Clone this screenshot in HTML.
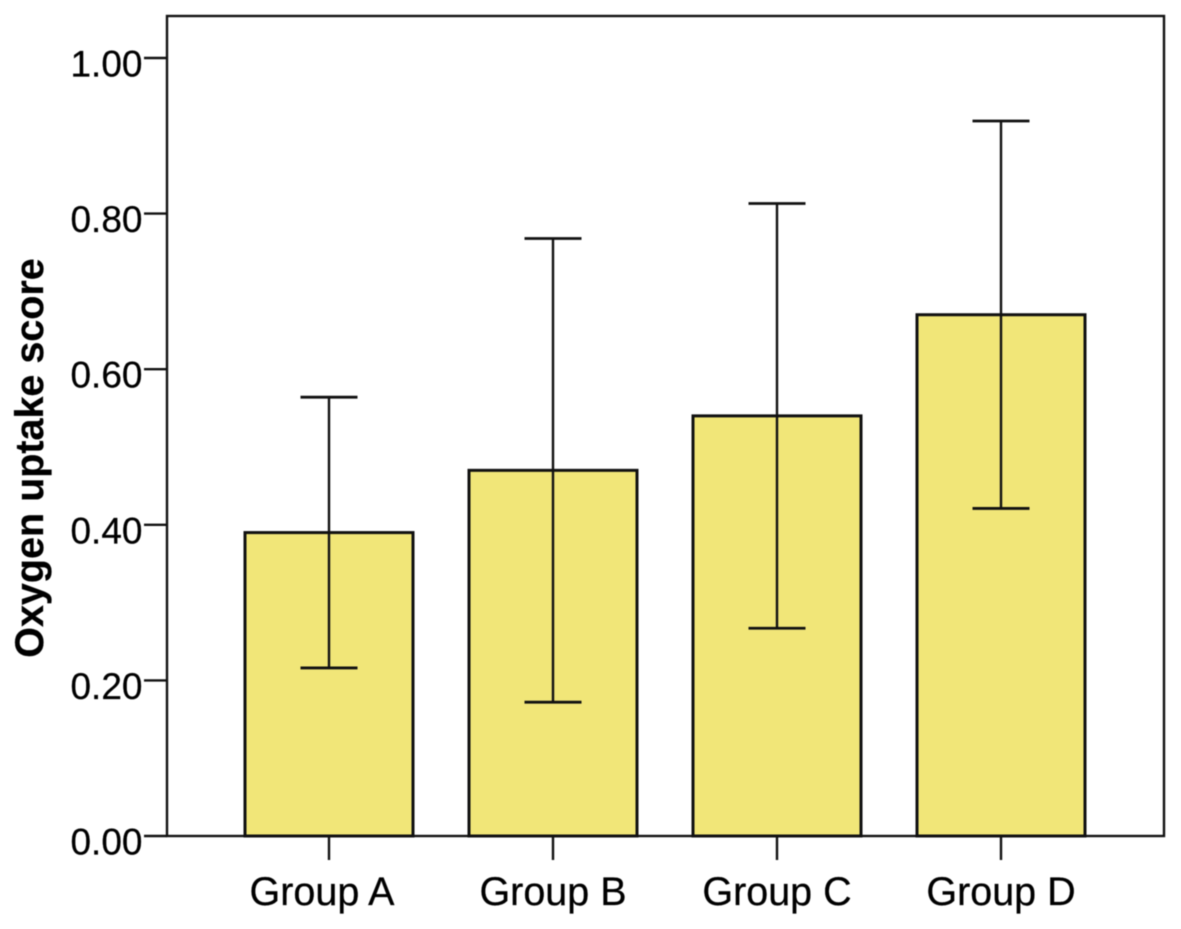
<!DOCTYPE html>
<html>
<head>
<meta charset="utf-8">
<style>
html,body{margin:0;padding:0;background:#fff;}
svg{display:block;filter:blur(0.55px);}
text{font-family:"Liberation Sans",sans-serif;fill:#000;stroke:#000;stroke-width:0.25px;}
</style>
</head>
<body>
<svg id="chart" xmlns="http://www.w3.org/2000/svg" width="1181" height="929" viewBox="0 0 1181 929"></svg>
<script>
const categories = ["Group A", "Group B", "Group C", "Group D"];
const means = [0.39, 0.47, 0.54, 0.67];
const errorLow = [0.216, 0.172, 0.267, 0.421];
const errorHigh = [0.564, 0.768, 0.813, 0.919];
const yTicks = [0, 0.2, 0.4, 0.6, 0.8, 1.0];

const svg = document.getElementById('chart');
const NS = 'http://www.w3.org/2000/svg';
const plot = {left: 167, right: 1164, top: 16, bottom: 836};
const y = v => 836 - v * (836 - 58);
const x = i => 329 + i * (1001 - 329) / 3;
const barW = 168, capHalf = 28.5;

function mk(tag, attrs, parent) {
  const el = document.createElementNS(NS, tag);
  for (const k in attrs) el.setAttribute(k, attrs[k]);
  (parent || svg).appendChild(el);
  return el;
}
const stroke = {stroke: '#111', 'stroke-width': 2.4, fill: 'none'};
const capStroke = {stroke: '#111', 'stroke-width': 2.8, fill: 'none'};

const frame = mk('rect', Object.assign({x: plot.left, y: plot.top, width: plot.right - plot.left, height: plot.bottom - plot.top}, stroke));



categories.forEach((c, i) => {
  const bar = mk('rect', {x: x(i) - barW / 2, y: y(means[i]), width: barW, height: y(0) - y(means[i]), fill: '#f1e678', stroke: '#111', 'stroke-width': 3});
  
  

  const g = mk('g', stroke);
  
  
  mk('line', {x1: x(i), x2: x(i), y1: y(errorLow[i]), y2: y(errorHigh[i])}, g);
  mk('line', Object.assign({x1: x(i) - capHalf, x2: x(i) + capHalf, y1: y(errorLow[i]), y2: y(errorLow[i])}, capStroke), g);
  mk('line', Object.assign({x1: x(i) - capHalf, x2: x(i) + capHalf, y1: y(errorHigh[i]), y2: y(errorHigh[i])}, capStroke), g);

  const tick = mk('line', Object.assign({x1: x(i), x2: x(i), y1: 836, y2: 860}, stroke));
  
  

  const label = mk('text', {x: x(i) - (i === 0 ? 7 : 0), y: 905, 'text-anchor': 'middle', 'font-size': 39.5});
  label.textContent = c;
  
  
});

yTicks.forEach(t => {
  const tick = mk('line', Object.assign({x1: 144, x2: plot.left, y1: y(t), y2: y(t)}, stroke));
  
  

  const label = mk('text', {x: 142.5, y: y(t) + 18.5, 'text-anchor': 'end', 'font-size': 37});
  label.textContent = t.toFixed(2);
  
  
});

const title = mk('text', {x: 0, y: 0, transform: 'translate(43 458) rotate(-90)', 'text-anchor': 'middle', 'font-size': 39.5, 'font-weight': 'bold'});
title.textContent = 'Oxygen uptake score';


</script>
</body>
</html>
